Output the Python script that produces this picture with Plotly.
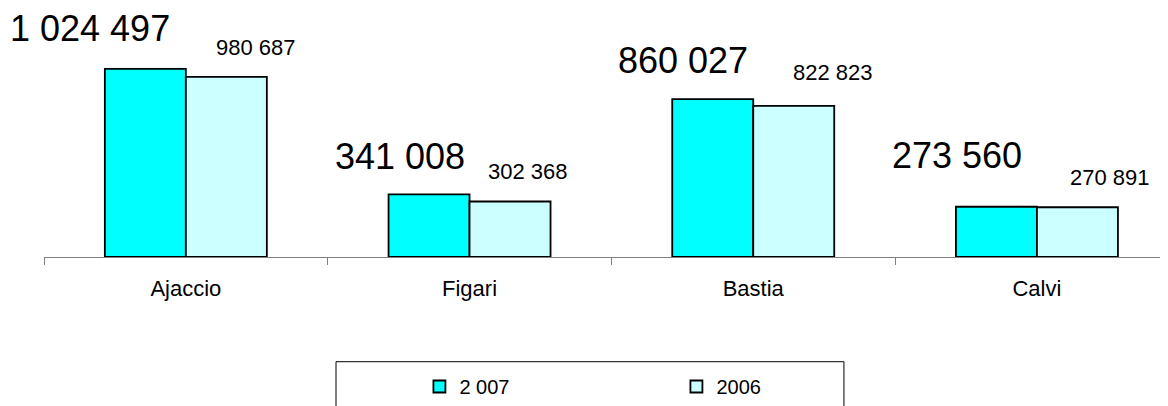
import plotly.graph_objects as go

categories = ["Ajaccio", "Figari", "Bastia", "Calvi"]
series_names = ["2 007", "2006"]
values_2007 = [1024497, 341008, 860027, 273560]
values_2006 = [980687, 302368, 822823, 270891]

# label placement offsets (pixels), kept apart from the data
shift_x_2007 = [-95.5, -69.5, -70, -79.5]
shift_y_2007 = [40, 37.5, 38.7, 51]
shift_x_2006 = [70, 58.5, 80, 73.5]
shift_y_2006 = [29, 30, 33, 29.5]

FONT = "Liberation Sans, Arial, sans-serif"


def fmt(v):
    return f"{v:,}".replace(",", " ")


fig = go.Figure()
fig.add_trace(go.Bar(
    x=categories, y=values_2007, name=series_names[0],
    marker=dict(color="#00FFFF", line=dict(color="#000000", width=1.8)),
))
fig.add_trace(go.Bar(
    x=categories, y=values_2006, name=series_names[1],
    marker=dict(color="#CCFFFF", line=dict(color="#000000", width=1.8)),
))

annotations = []
for c, v, dx, dy in zip(categories, values_2007, shift_x_2007, shift_y_2007):
    annotations.append(dict(x=c, y=v, xref="x", yref="y", text=fmt(v), showarrow=False,
                            xanchor="center", yanchor="middle", xshift=dx, yshift=dy,
                            font=dict(family=FONT, size=36, color="#000000")))
for c, v, dx, dy in zip(categories, values_2006, shift_x_2006, shift_y_2006):
    annotations.append(dict(x=c, y=v, xref="x", yref="y", text=fmt(v), showarrow=False,
                            xanchor="center", yanchor="middle", xshift=dx, yshift=dy,
                            font=dict(family=FONT, size=22, color="#000000")))

fig.update_layout(
    width=1160, height=398,
    margin=dict(l=36, r=0, t=0, b=149, pad=0),
    paper_bgcolor="#FFFFFF", plot_bgcolor="#FFFFFF",
    barmode="group", bargap=0.429, bargroupgap=0,
    font=dict(family=FONT, size=22, color="#000000"),
    showlegend=True,
    legend=dict(orientation="h", x=0.334, xanchor="left", y=-0.521, yanchor="middle",
                font=dict(family=FONT, size=20, color="#000000"),
                entrywidth=212, entrywidthmode="pixels",
                bgcolor="rgba(0,0,0,0)", borderwidth=0),
    annotations=annotations,
    shapes=[dict(type="rect", xref="paper", yref="paper",
                 x0=0.2598, x1=0.7117, y0=-0.62, y1=-0.4205,
                 line=dict(color="#000000", width=1), fillcolor="rgba(0,0,0,0)")],
    xaxis=dict(range=[-0.5, 3.462], showline=True, linecolor="#808080", linewidth=1,
               ticks="outside", tickson="boundaries", ticklen=7, tickcolor="#808080",
               ticklabelstandoff=12,
               showgrid=False, zeroline=False,
               tickfont=dict(family=FONT, size=22, color="#000000")),
    yaxis=dict(range=[0, 1356000], visible=False, showgrid=False, zeroline=False),
)

fig.write_html("out.html")
